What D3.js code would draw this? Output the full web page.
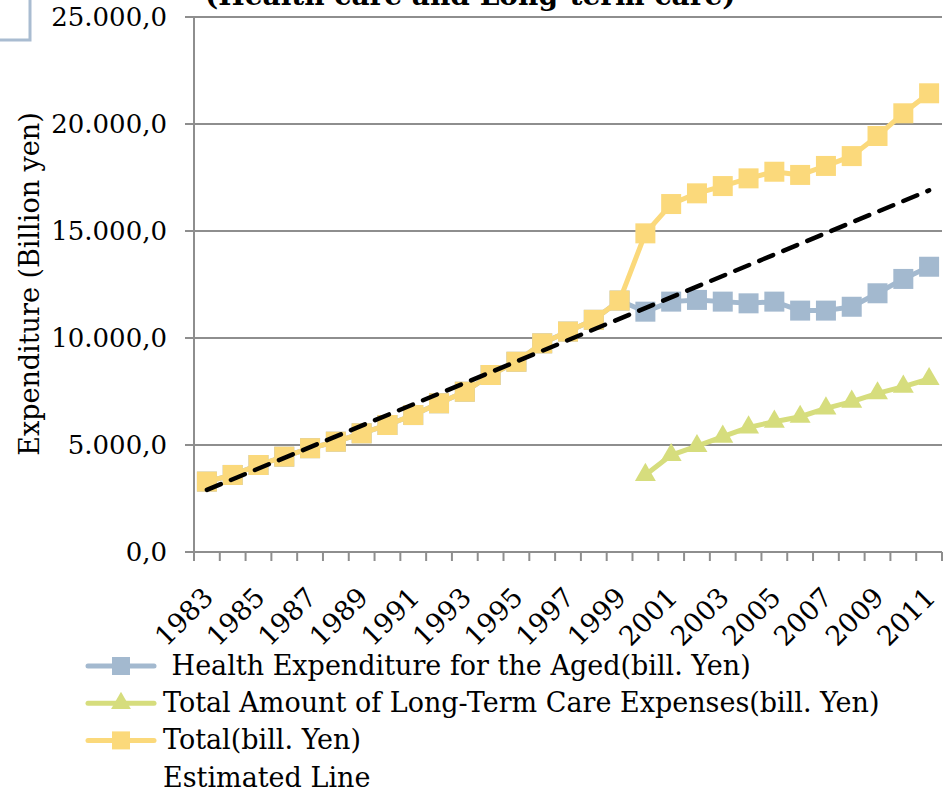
<!DOCTYPE html>
<html>
<head>
<meta charset="utf-8">
<script src="https://cdn.jsdelivr.net/npm/d3@7"></script>
<style>
  body { margin: 0; background: #fff; }
  svg { display: block; font-family: "DejaVu Serif", serif; }
</style>
</head>
<body>
<svg id="chart" width="948" height="791"></svg>
<script>
const years = d3.range(1983, 2012);
const tickLabels = years.filter((y, i) => i % 2 === 0);
const yTicks = [0, 5000, 10000, 15000, 20000, 25000];

// Health expenditure for the aged (hidden behind the total before 2000)
const healthValues = [3290, 3600, 4065, 4455, 4850, 5155, 5545, 5935, 6400, 6950, 7490, 8270, 8890, 9750, 10300, 10850, 11750,
  11230, 11700, 11780, 11700, 11620, 11700, 11280, 11280, 11460, 12090, 12760, 13330];
// long-term care starts in 2000
const careYears = d3.range(2000, 2012);
const careValues = [3600, 4530, 4950, 5390, 5825, 6090, 6320, 6710, 7025, 7415, 7725, 8085];
const totalValues = [3290, 3600, 4065, 4455, 4850, 5155, 5545, 5935, 6400, 6950, 7490, 8270, 8890, 9750, 10300, 10850, 11750,
  14890, 16260, 16760, 17100, 17460, 17770, 17620, 18040, 18500, 19440, 20500, 21435];
const estYears = [1983, 2011];
const estValues = [2900, 16900];

const legendNames = [
  ' Health Expenditure for the Aged(bill. Yen)',
  'Total Amount of Long-Term Care Expenses(bill. Yen)',
  'Total(bill. Yen)',
  'Estimated Line'
];

const colors = {health: '#a3b9cf', care: '#d6dd7d', total: '#fbd97b'};
const fmt = v => d3.format(',.1f')(v).replace(/,/g, 'X').replace('.', ',').replace(/X/g, '.');

const svg = d3.select('#chart');
const plotLeft = 194, plotRight = 942, plotTop = 17, plotBottom = 552;

const x = d3.scaleBand().domain(years).range([plotLeft, plotRight]);
const cx = yr => x(yr) + x.bandwidth() / 2;
const y = d3.scaleLinear().domain([0, 25000]).range([plotBottom, plotTop]);

// cut-off box and title at the top
svg.append('rect')
  .attr('x', -10).attr('y', -10).attr('width', 40).attr('height', 50)
  .attr('fill', 'none').attr('stroke', '#a9bcd1').attr('stroke-width', 3);
svg.append('text')
  .attr('x', 205).attr('y', 5)
  .attr('font-size', 28).attr('font-weight', 'bold')
  .text('(Health care and Long-term care)');

// gridlines + y ticks
svg.append('g').selectAll('line')
  .data(yTicks)
  .enter().append('line')
  .attr('x1', plotLeft - 9).attr('x2', d => d === 0 ? plotLeft : plotRight)
  .attr('y1', d => y(d)).attr('y2', d => y(d))
  .attr('stroke', '#8e8e8e').attr('stroke-width', 2);

svg.append('g').selectAll('text')
  .data(yTicks)
  .enter().append('text')
  .attr('x', 167).attr('y', d => y(d))
  .attr('dy', '0.36em')
  .attr('text-anchor', 'end')
  .attr('font-size', 26)
  .text(fmt);

// axes
svg.append('line')
  .attr('x1', plotLeft).attr('x2', plotLeft).attr('y1', plotTop).attr('y2', plotBottom)
  .attr('stroke', '#8e8e8e').attr('stroke-width', 2);
svg.append('line')
  .attr('x1', plotLeft).attr('x2', plotRight).attr('y1', plotBottom).attr('y2', plotBottom)
  .attr('stroke', '#8e8e8e').attr('stroke-width', 2);

const tickPos = years.map(d => x(d)).concat([plotRight]);
svg.append('g').selectAll('line')
  .data(tickPos)
  .enter().append('line')
  .attr('x1', d => d).attr('x2', d => d)
  .attr('y1', plotBottom).attr('y2', plotBottom + 9)
  .attr('stroke', '#8e8e8e').attr('stroke-width', 2);

svg.append('g').selectAll('text')
  .data(tickLabels)
  .enter().append('text')
  .attr('transform', d => `translate(${cx(d) + 8}, ${plotBottom + 47}) rotate(-45)`)
  .attr('text-anchor', 'end')
  .attr('font-size', 27)
  .text(d => d);

svg.append('text')
  .attr('transform', 'translate(38.5, 284) rotate(-90)')
  .attr('text-anchor', 'middle')
  .attr('font-size', 27)
  .text('Expenditure (Billion yen)');

// series
const line = d3.line().x(d => cx(d[0])).y(d => y(d[1]));
const square = d3.symbol().type(d3.symbolSquare).size(400);
const triangle = d3.symbol().type(d3.symbolTriangle).size(190);

function drawSeries(xs, vals, color, sym) {
  const pts = xs.map((d, i) => [d, vals[i]]);
  svg.append('path')
    .attr('d', line(pts))
    .attr('fill', 'none')
    .attr('stroke', color).attr('stroke-width', 5)
    .attr('stroke-linejoin', 'round');
  svg.append('g').selectAll('path')
    .data(pts)
    .enter().append('path')
    .attr('transform', d => `translate(${cx(d[0])}, ${y(d[1])})`)
    .attr('d', sym)
    .attr('fill', color);
}

drawSeries(years, healthValues, colors.health, square);
drawSeries(careYears, careValues, colors.care, triangle);
drawSeries(years, totalValues, colors.total, square);

svg.append('path')
  .attr('d', line(estYears.map((d, i) => [d, estValues[i]])))
  .attr('fill', 'none')
  .attr('stroke', '#000').attr('stroke-width', 4.5)
  .attr('stroke-dasharray', '15,11')
  .attr('stroke-linecap', 'round');

// legend
const legend = svg.append('g');
const legendColors = [colors.health, colors.care, colors.total, null];
const legendSyms = [
  d3.symbol().type(d3.symbolSquare).size(324),
  d3.symbol().type(d3.symbolTriangle).size(170),
  d3.symbol().type(d3.symbolSquare).size(324),
  null
];
legendNames.forEach((name, i) => {
  const by = 675 + i * 37.2;
  if (legendColors[i]) {
    legend.append('line')
      .attr('x1', 88).attr('x2', 154).attr('y1', by - 9).attr('y2', by - 9)
      .attr('stroke', legendColors[i]).attr('stroke-width', 5)
      .attr('stroke-linecap', 'round');
    legend.append('path')
      .attr('transform', `translate(121, ${by - 9})`)
      .attr('d', legendSyms[i]())
      .attr('fill', legendColors[i]);
  }
  legend.append('text')
    .attr('x', 163).attr('y', by)
    .attr('font-size', 27)
    .style('white-space', 'pre')
    .text(name);
});
</script>
</body>
</html>
